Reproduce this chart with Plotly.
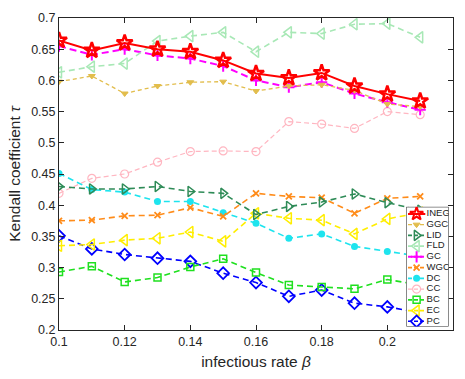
import plotly.graph_objects as go

# infection rate values on the x axis
beta = [0.10, 0.11, 0.12, 0.13, 0.14, 0.15, 0.16, 0.17, 0.18, 0.19, 0.20, 0.21]

# Kendall tau of each centrality ranking against the SIR spreading ranking
ineg = [0.664, 0.648, 0.660, 0.650, 0.646, 0.632, 0.611, 0.604, 0.612, 0.591, 0.578, 0.567]
ggc = [0.598, 0.607, 0.579, 0.591, 0.597, 0.598, 0.583, 0.591, 0.593, 0.584, 0.562, 0.558]
lid = [0.430, 0.426, 0.426, 0.430, 0.422, 0.419, 0.385, 0.398, 0.405, 0.418, 0.404, 0.392]
fld = [0.613, 0.622, 0.627, 0.663, 0.671, 0.677, 0.646, 0.677, 0.675, 0.690, 0.691, 0.669]
gc = [0.655, 0.641, 0.650, 0.640, 0.635, 0.623, 0.600, 0.589, 0.597, 0.579, 0.565, 0.553]
wgc = [0.375, 0.376, 0.383, 0.384, 0.396, 0.382, 0.419, 0.414, 0.412, 0.387, 0.411, 0.414]
dc = [0.451, 0.425, 0.421, 0.406, 0.406, 0.388, 0.371, 0.347, 0.354, 0.334, 0.326, 0.318]
cc = [0.419, 0.443, 0.450, 0.469, 0.486, 0.487, 0.486, 0.534, 0.530, 0.523, 0.550, 0.545]
bc = [0.293, 0.302, 0.277, 0.284, 0.301, 0.314, 0.292, 0.272, 0.269, 0.266, 0.281, 0.272]
ec = [0.335, 0.337, 0.344, 0.347, 0.357, 0.342, 0.387, 0.379, 0.376, 0.354, 0.378, 0.388]
pc = [0.351, 0.330, 0.321, 0.315, 0.310, 0.291, 0.276, 0.254, 0.264, 0.243, 0.237, 0.228]

names = ["INEG", "GGC", "LID", "FLD", "GC", "WGC", "DC", "CC", "BC", "EC", "PC"]
series = [ineg, ggc, lid, fld, gc, wgc, dc, cc, bc, ec, pc]

# (colour, dash, line width, marker symbol, marker size, marker line width)
styles = {
    "INEG": ("#FF0000", "solid", 2.0, "star-open", 12, 2.5),
    "GGC": ("#E2BD4C", "4px,3px", 1.3, "triangle-down", 6, 1),
    "LID": ("#2E8B57", "6px,4px", 1.6, "triangle-right-open", 9, 1.5),
    "FLD": ("#A8E8B6", "6px,4px", 1.6, "triangle-left-open", 10, 1.5),
    "GC": ("#FF00FF", "7px,4px", 2.0, "cross-thin-open", 8, 2),
    "WGC": ("#FF8C1A", "6px,4px", 1.6, "x-thin-open", 6, 1.8),
    "DC": ("#1EE4EE", "6px,4px", 1.6, "circle", 7, 0),
    "CC": ("#FFB6C1", "5px,3px", 1.2, "circle-open", 8, 1.2),
    "BC": ("#1FE01F", "6px,4px", 1.6, "square-open", 7, 1.5),
    "EC": ("#FFEE00", "6px,4px", 1.6, "triangle-left-open", 10, 1.5),
    "PC": ("#0000FF", "6px,4px", 1.6, "diamond-open", 9, 1.8),
}

axis_col = "#262626"
font_family = "Liberation Sans, Arial, sans-serif"

fig = go.Figure()

# data lines (INEG drawn last so it sits on top)
for name, ys in reversed(list(zip(names, series))):
    col, dash, lw, sym, ms, mlw = styles[name]
    fig.add_trace(go.Scatter(
        x=beta, y=ys, mode="lines+markers", name=name, showlegend=False,
        line=dict(color=col, dash=dash, width=lw),
        marker=dict(symbol=sym, size=ms, color=col, line=dict(color=col, width=mlw)),
    ))

# legend panel drawn on its own small axes, in pixel-like units
leg_w, leg_h = 42.3, 124.0
row0, row_step = 7.3, 11.13
fig.add_trace(go.Scatter(
    x=[0, leg_w, leg_w, 0, 0], y=[0, 0, leg_h, leg_h, 0],
    mode="lines", fill="toself", fillcolor="white",
    line=dict(color=axis_col, width=1), xaxis="x2", yaxis="y2",
    showlegend=False, hoverinfo="skip",
))
for i, name in enumerate(names):
    col, dash, lw, sym, ms, mlw = styles[name]
    yy = row0 + row_step * i
    fig.add_trace(go.Scatter(
        x=[1.7, 10.3, 19.0], y=[yy, yy, yy], mode="lines+markers",
        line=dict(color=col, dash="solid" if name == "INEG" else "4px,2px", width=lw),
        marker=dict(symbol=sym, size=min(ms, 10), color=col, opacity=[0, 1, 0],
                    line=dict(color=col, width=min(mlw, 2))),
        xaxis="x2", yaxis="y2", showlegend=False, hoverinfo="skip",
    ))
fig.add_trace(go.Scatter(
    x=[20.3] * len(names), y=[row0 + row_step * i for i in range(len(names))],
    mode="text", text=names, textposition="middle right",
    textfont=dict(family=font_family, size=9.5, color="#222222"),
    xaxis="x2", yaxis="y2", showlegend=False, hoverinfo="skip",
))

fig.update_layout(
    width=465, height=379,
    margin=dict(l=58.7, r=12.3, t=11, b=44.7),
    paper_bgcolor="white", plot_bgcolor="white",
    font=dict(family=font_family, color=axis_col),
    xaxis=dict(
        range=[0.1, 0.22], dtick=0.02, tick0=0.1,
        showline=True, mirror="ticks", linecolor=axis_col, linewidth=1,
        ticks="inside", ticklen=5, tickcolor=axis_col, showgrid=False, zeroline=False,
        tickfont=dict(size=12.5, color=axis_col),
        title=dict(text="infectious rate <i>β</i>", font=dict(size=15.5, color=axis_col), standoff=8),
    ),
    yaxis=dict(
        range=[0.2, 0.7], dtick=0.05, tick0=0.2,
        showline=True, mirror="ticks", linecolor=axis_col, linewidth=1,
        ticks="inside", ticklen=5, tickcolor=axis_col, showgrid=False, zeroline=False,
        tickfont=dict(size=12.5, color=axis_col),
        title=dict(text="Kendall coefficient <i>τ</i>", font=dict(size=15.5, color=axis_col), standoff=6),
    ),
    xaxis2=dict(domain=[0.8815, 0.9888], range=[0, leg_w], visible=False, fixedrange=True),
    yaxis2=dict(domain=[0.0111, 0.3947], range=[leg_h, 0], visible=False, fixedrange=True),
)

fig.write_html("out.html")
